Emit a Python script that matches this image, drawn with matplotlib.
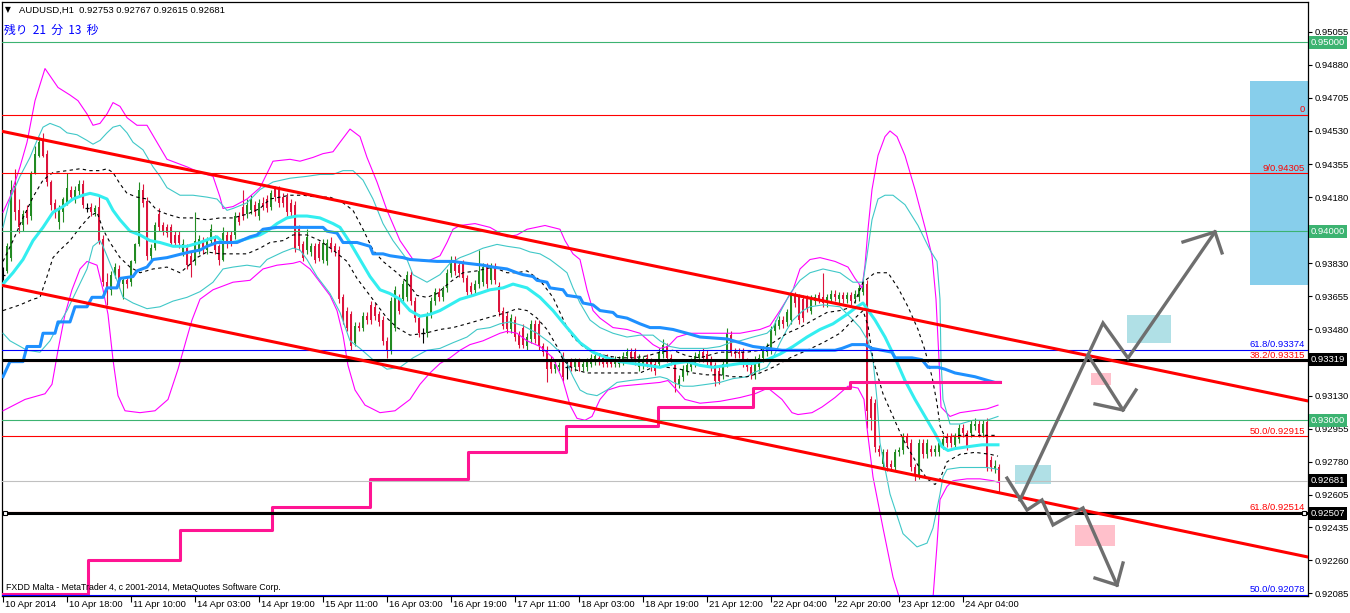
import numpy as np
import matplotlib
matplotlib.use("Agg")
import matplotlib.pyplot as plt
import matplotlib.transforms as mtransforms
from matplotlib.patches import Rectangle

plt.rcParams['font.family'] = ['Liberation Sans', 'DejaVu Sans']

# ---- AUDUSD H1 candles (bar 0 = first bar on 10 Apr 2014) ----
opens = [
    0.9377, 0.9379, 0.9386, 0.9424, 0.9411, 0.9403, 0.9411, 0.9408, 0.9431, 0.9440,
    0.9448, 0.9441, 0.9426, 0.9415, 0.9405, 0.9410, 0.9415, 0.9422, 0.9417, 0.9421,
    0.9425, 0.9412, 0.9413, 0.9410, 0.9413, 0.9396, 0.9373, 0.9369, 0.9377, 0.9380,
    0.9372, 0.9374, 0.9373, 0.9384, 0.9393, 0.9422, 0.9416, 0.9387, 0.9391, 0.9409,
    0.9403, 0.9402, 0.9402, 0.9398, 0.9398, 0.9389, 0.9391, 0.9387, 0.9384, 0.9390,
    0.9395, 0.9390, 0.9395, 0.9396, 0.9392, 0.9385, 0.9398, 0.9398, 0.9398, 0.9408,
    0.9413, 0.9409, 0.9411, 0.9414, 0.9408, 0.9415, 0.9417, 0.9413, 0.9423, 0.9422,
    0.9418, 0.9418, 0.9415, 0.9414, 0.9401, 0.9393, 0.9390, 0.9389, 0.9392, 0.9393,
    0.9385, 0.9384, 0.9394, 0.9392, 0.9390, 0.9365, 0.9358, 0.9356, 0.9341, 0.9350,
    0.9349, 0.9355, 0.9361, 0.9360, 0.9356, 0.9353, 0.9342, 0.9337, 0.9349, 0.9365,
    0.9364, 0.9365, 0.9377, 0.9363, 0.9354, 0.9346, 0.9346, 0.9356, 0.9363, 0.9368,
    0.9365, 0.9370, 0.9378, 0.9385, 0.9382, 0.9383, 0.9375, 0.9371, 0.9369, 0.9372,
    0.9373, 0.9381, 0.9374, 0.9381, 0.9371, 0.9358, 0.9355, 0.9348, 0.9353, 0.9345,
    0.9349, 0.9339, 0.9343, 0.9351, 0.9351, 0.9339, 0.9337, 0.9332, 0.9327, 0.9328,
    0.9334, 0.9328, 0.9331, 0.9328, 0.9331, 0.9328, 0.9328, 0.9330, 0.9331, 0.9333,
    0.9333, 0.9333, 0.9332, 0.9330, 0.9330, 0.9331, 0.9334, 0.9336, 0.9336, 0.9328,
    0.9329, 0.9333, 0.9331, 0.9330, 0.9330, 0.9335, 0.9339, 0.9333, 0.9330, 0.9319,
    0.9323, 0.9326, 0.9328, 0.9330, 0.9333, 0.9336, 0.9335, 0.9332, 0.9329, 0.9326,
    0.9324, 0.9330, 0.9345, 0.9336, 0.9336, 0.9336, 0.9331, 0.9328, 0.9324, 0.9328,
    0.9333, 0.9336, 0.9337, 0.9347, 0.9350, 0.9353, 0.9352, 0.9353, 0.9366, 0.9365,
    0.9364, 0.9364, 0.9358, 0.9363, 0.9366, 0.9365, 0.9362, 0.9364, 0.9367, 0.9364,
    0.9366, 0.9364, 0.9366, 0.9364, 0.9365, 0.9368, 0.9372, 0.9311, 0.9309, 0.9285,
    0.9277, 0.9283, 0.9277, 0.9275, 0.9283, 0.9284, 0.9291, 0.9288, 0.9275, 0.9271,
    0.9288, 0.9282, 0.9285, 0.9283, 0.9283, 0.9287, 0.9291, 0.9291, 0.9287, 0.9290,
    0.9296, 0.9293, 0.9293, 0.9297, 0.9298, 0.9293, 0.9299, 0.9279, 0.9274, 0.92753,
]
highs = [
    0.9381, 0.9394, 0.9427, 0.9433, 0.9417, 0.9411, 0.9414, 0.9432, 0.9445, 0.9450,
    0.9452, 0.9443, 0.9427, 0.9417, 0.9414, 0.9418, 0.9431, 0.9424, 0.9424, 0.9427,
    0.9427, 0.9415, 0.9415, 0.9414, 0.9419, 0.9398, 0.9378, 0.9379, 0.9383, 0.9382,
    0.9376, 0.9376, 0.9385, 0.9394, 0.9426, 0.9425, 0.9418, 0.9393, 0.9405, 0.9412,
    0.9405, 0.9404, 0.9404, 0.9400, 0.9400, 0.9396, 0.9393, 0.9389, 0.9410, 0.9398,
    0.9397, 0.9397, 0.9404, 0.9398, 0.9393, 0.9402, 0.9400, 0.9400, 0.9410, 0.9410,
    0.9422, 0.9417, 0.9419, 0.9416, 0.9417, 0.9418, 0.9419, 0.9422, 0.9424, 0.9424,
    0.9420, 0.9420, 0.9417, 0.9416, 0.9403, 0.9395, 0.9401, 0.9394, 0.9394, 0.9395,
    0.9396, 0.9396, 0.9397, 0.9394, 0.9392, 0.9367, 0.9360, 0.9358, 0.9352, 0.9352,
    0.9357, 0.9357, 0.9363, 0.9362, 0.9358, 0.9355, 0.9344, 0.9365, 0.9371, 0.9367,
    0.9374, 0.9379, 0.9379, 0.9365, 0.9356, 0.9349, 0.9357, 0.9365, 0.9370, 0.9370,
    0.9371, 0.9380, 0.9387, 0.9387, 0.9384, 0.9385, 0.9377, 0.9373, 0.9374, 0.9390,
    0.9383, 0.9383, 0.9383, 0.9383, 0.9373, 0.9360, 0.9357, 0.9356, 0.9355, 0.9347,
    0.9351, 0.9346, 0.9353, 0.9353, 0.9353, 0.9341, 0.9339, 0.9334, 0.9332, 0.9331,
    0.9336, 0.9332, 0.9333, 0.9333, 0.9333, 0.9332, 0.9333, 0.9335, 0.9336, 0.9335,
    0.9335, 0.9335, 0.9334, 0.9334, 0.9334, 0.9336, 0.9338, 0.9338, 0.9338, 0.9335,
    0.9334, 0.9335, 0.9333, 0.9332, 0.9338, 0.9343, 0.9341, 0.9335, 0.9332, 0.9324,
    0.9329, 0.9331, 0.9333, 0.9336, 0.9337, 0.9338, 0.9337, 0.9334, 0.9331, 0.9328,
    0.9332, 0.9349, 0.9347, 0.9338, 0.9338, 0.9338, 0.9333, 0.9330, 0.9334, 0.9335,
    0.9339, 0.9341, 0.9350, 0.9353, 0.9355, 0.9355, 0.9359, 0.9368, 0.9368, 0.9367,
    0.9366, 0.9366, 0.9366, 0.9367, 0.9368, 0.9378, 0.9367, 0.9369, 0.9369, 0.9368,
    0.9368, 0.9368, 0.9368, 0.9369, 0.9372, 0.9375, 0.9374, 0.9313, 0.9311, 0.9287,
    0.9285, 0.9285, 0.9279, 0.9285, 0.9286, 0.9293, 0.9293, 0.9290, 0.9277, 0.9290,
    0.9290, 0.9290, 0.9287, 0.9287, 0.9290, 0.9292, 0.9293, 0.9293, 0.9293, 0.9298,
    0.9298, 0.9295, 0.9300, 0.9301, 0.9300, 0.9300, 0.9301, 0.9281, 0.9279, 0.92767,
]
lows = [
    0.9374, 0.9378, 0.9384, 0.9406, 0.9399, 0.9400, 0.9404, 0.9406, 0.9430, 0.9439,
    0.9439, 0.9424, 0.9411, 0.9407, 0.9401, 0.9405, 0.9414, 0.9417, 0.9415, 0.9419,
    0.9412, 0.9410, 0.9408, 0.9408, 0.9393, 0.9371, 0.9361, 0.9366, 0.9375, 0.9370,
    0.9364, 0.9370, 0.9371, 0.9383, 0.9392, 0.9413, 0.9385, 0.9384, 0.9390, 0.9400,
    0.9398, 0.9397, 0.9392, 0.9392, 0.9391, 0.9387, 0.9380, 0.9376, 0.9382, 0.9388,
    0.9388, 0.9388, 0.9393, 0.9388, 0.9382, 0.9384, 0.9391, 0.9392, 0.9396, 0.9403,
    0.9406, 0.9407, 0.9409, 0.9408, 0.9406, 0.9411, 0.9410, 0.9411, 0.9416, 0.9413,
    0.9413, 0.9408, 0.9408, 0.9389, 0.9390, 0.9384, 0.9388, 0.9387, 0.9383, 0.9384,
    0.9383, 0.9382, 0.9389, 0.9387, 0.9362, 0.9351, 0.9347, 0.9337, 0.9339, 0.9347,
    0.9347, 0.9351, 0.9351, 0.9353, 0.9350, 0.9340, 0.9333, 0.9335, 0.9347, 0.9356,
    0.9362, 0.9363, 0.9361, 0.9352, 0.9344, 0.9341, 0.9344, 0.9354, 0.9361, 0.9363,
    0.9363, 0.9368, 0.9376, 0.9377, 0.9376, 0.9373, 0.9366, 0.9366, 0.9367, 0.9370,
    0.9371, 0.9370, 0.9372, 0.9372, 0.9355, 0.9348, 0.9346, 0.9346, 0.9342, 0.9338,
    0.9338, 0.9337, 0.9341, 0.9341, 0.9337, 0.9334, 0.9320, 0.9325, 0.9325, 0.9326,
    0.9321, 0.9322, 0.9326, 0.9326, 0.9326, 0.9326, 0.9326, 0.9328, 0.9329, 0.9329,
    0.9328, 0.9328, 0.9328, 0.9328, 0.9328, 0.9329, 0.9332, 0.9331, 0.9329, 0.9326,
    0.9327, 0.9328, 0.9326, 0.9324, 0.9328, 0.9333, 0.9331, 0.9329, 0.9315, 0.9317,
    0.9321, 0.9324, 0.9326, 0.9328, 0.9331, 0.9331, 0.9329, 0.9326, 0.9318, 0.9319,
    0.9322, 0.9328, 0.9334, 0.9333, 0.9333, 0.9328, 0.9326, 0.9322, 0.9322, 0.9326,
    0.9331, 0.9334, 0.9335, 0.9345, 0.9348, 0.9349, 0.9350, 0.9351, 0.9360, 0.9351,
    0.9352, 0.9357, 0.9356, 0.9361, 0.9362, 0.9360, 0.9360, 0.9362, 0.9363, 0.9362,
    0.9362, 0.9362, 0.9361, 0.9362, 0.9363, 0.9366, 0.9296, 0.9295, 0.9283, 0.9281,
    0.9275, 0.9273, 0.9273, 0.9273, 0.9281, 0.9282, 0.9286, 0.9273, 0.9268, 0.9269,
    0.9280, 0.9280, 0.9281, 0.9281, 0.9281, 0.9285, 0.9286, 0.9286, 0.9285, 0.9288,
    0.9291, 0.9284, 0.9291, 0.9295, 0.9291, 0.9291, 0.9273, 0.9273, 0.9272, 0.92615,
]
closes = [
    0.9377, 0.9392, 0.9422, 0.9410, 0.9402, 0.9409, 0.9407, 0.9431, 0.9441, 0.9447,
    0.9440, 0.9426, 0.9414, 0.9410, 0.9411, 0.9417, 0.9423, 0.9418, 0.9422, 0.9425,
    0.9414, 0.9412, 0.9410, 0.9412, 0.9395, 0.9373, 0.9369, 0.9377, 0.9381, 0.9372,
    0.9374, 0.9372, 0.9384, 0.9393, 0.9422, 0.9415, 0.9387, 0.9391, 0.9403, 0.9402,
    0.9400, 0.9399, 0.9394, 0.9394, 0.9394, 0.9393, 0.9382, 0.9382, 0.9395, 0.9396,
    0.9390, 0.9395, 0.9401, 0.9390, 0.9385, 0.9399, 0.9393, 0.9394, 0.9408, 0.9405,
    0.9408, 0.9414, 0.9417, 0.9410, 0.9415, 0.9413, 0.9412, 0.9420, 0.9418, 0.9415,
    0.9415, 0.9410, 0.9410, 0.9391, 0.9392, 0.9386, 0.9397, 0.9392, 0.9385, 0.9386,
    0.9394, 0.9394, 0.9391, 0.9389, 0.9364, 0.9353, 0.9349, 0.9339, 0.9350, 0.9349,
    0.9355, 0.9353, 0.9353, 0.9355, 0.9352, 0.9342, 0.9337, 0.9363, 0.9369, 0.9358,
    0.9372, 0.9377, 0.9363, 0.9354, 0.9346, 0.9346, 0.9355, 0.9363, 0.9368, 0.9365,
    0.9369, 0.9378, 0.9384, 0.9379, 0.9378, 0.9375, 0.9368, 0.9368, 0.9372, 0.9379,
    0.9381, 0.9372, 0.9381, 0.9374, 0.9357, 0.9350, 0.9348, 0.9354, 0.9344, 0.9340,
    0.9340, 0.9344, 0.9351, 0.9343, 0.9339, 0.9336, 0.9327, 0.9327, 0.9330, 0.9329,
    0.9323, 0.9328, 0.9328, 0.9331, 0.9328, 0.9330, 0.9331, 0.9333, 0.9334, 0.9331,
    0.9330, 0.9330, 0.9330, 0.9332, 0.9332, 0.9334, 0.9336, 0.9333, 0.9331, 0.9333,
    0.9332, 0.9330, 0.9328, 0.9326, 0.9336, 0.9340, 0.9333, 0.9331, 0.9320, 0.9322,
    0.9327, 0.9329, 0.9331, 0.9334, 0.9335, 0.9333, 0.9331, 0.9328, 0.9321, 0.9321,
    0.9330, 0.9346, 0.9336, 0.9335, 0.9335, 0.9330, 0.9328, 0.9324, 0.9332, 0.9333,
    0.9337, 0.9339, 0.9348, 0.9351, 0.9353, 0.9351, 0.9357, 0.9366, 0.9362, 0.9353,
    0.9354, 0.9359, 0.9364, 0.9365, 0.9364, 0.9362, 0.9365, 0.9367, 0.9365, 0.9366,
    0.9364, 0.9366, 0.9363, 0.9367, 0.9370, 0.9373, 0.9305, 0.9301, 0.9286, 0.9283,
    0.9283, 0.9275, 0.9275, 0.9283, 0.9284, 0.9291, 0.9288, 0.9275, 0.9271, 0.9288,
    0.9282, 0.9288, 0.9283, 0.9285, 0.9288, 0.9290, 0.9288, 0.9288, 0.9291, 0.9296,
    0.9293, 0.9286, 0.9298, 0.9298, 0.9293, 0.9298, 0.9275, 0.9275, 0.9276, 0.92681,
]

# ---- indicator lines (x in bars, y in price) ----
# outer Bollinger band (magenta)
mag_up_x = [0, 1.75, 4.25, 6, 8, 10.5, 13.75, 16.75, 18.75, 21,
            22.5, 24.25, 26, 27.5, 29.25, 31, 33.5, 36, 38.5, 41,
            46, 49.25, 52.5, 54.25, 55, 57.5, 61, 64.25, 67.5, 71.75,
            74.25, 77.5, 80, 82.5, 84.25, 86.75, 89.25, 91, 93.5, 96,
            99.25, 102.5, 106, 109.25, 111, 112.5, 114.25, 118, 121.75, 124.25,
            126, 128.5, 131, 135.5, 139.25, 140.5, 142.5, 144.25, 146, 147.5,
            149.25, 152.5, 156, 159.25, 162.5, 164.25, 166.25, 168.5, 171.75, 177.5,
            184.25, 189.25, 191.75, 194.25, 196, 197.5, 199.25, 201.75, 204.25, 208,
            211.25, 213, 214.75, 215.5, 216.25, 217.25, 218.75, 220.5, 221.75, 223.5,
            225.5, 228, 230.5, 232.25, 233.25, 234, 234.5, 236.75, 239.25, 242.5,
            246, 248.75]
mag_up_y = [0.9410, 0.9418, 0.9434, 0.9447, 0.9469, 0.9486, 0.9476, 0.9472, 0.9469, 0.9462,
            0.9456, 0.9457, 0.9462, 0.9468, 0.9466, 0.9460, 0.9456, 0.9456, 0.9447, 0.9438,
            0.9434, 0.9431, 0.9429, 0.9418, 0.9412, 0.9413, 0.9417, 0.9423, 0.9437, 0.9438,
            0.9437, 0.9439, 0.9441, 0.9442, 0.9447, 0.9454, 0.9450, 0.9439, 0.9426, 0.9411,
            0.9395, 0.9385, 0.9384, 0.9387, 0.9394, 0.9401, 0.9403, 0.9404, 0.9402, 0.9399,
            0.9397, 0.9398, 0.9401, 0.9403, 0.9401, 0.9395, 0.9388, 0.9385, 0.9369, 0.9358,
            0.9354, 0.9349, 0.9348, 0.9346, 0.9340, 0.9338, 0.9339, 0.9344, 0.9346, 0.9346,
            0.9346, 0.9348, 0.9350, 0.9358, 0.9364, 0.9369, 0.9380, 0.9385, 0.9386, 0.9384,
            0.9381, 0.9375, 0.9370, 0.9382, 0.9401, 0.9422, 0.9440, 0.9450, 0.9453, 0.9450,
            0.9440, 0.9422, 0.9402, 0.9387, 0.9364, 0.9332, 0.9307, 0.9302, 0.9304, 0.9305,
            0.9306, 0.9308]
mag_lo_x = [0, 5.5, 10.5, 12.25, 13.75, 15.5, 17.25, 19.25, 21, 23.5,
            25, 26.25, 27.5, 28.75, 30.5, 34.25, 38, 41.25, 43.75, 45.75,
            47.25, 49.25, 52.5, 57.5, 61.75, 65, 68.5, 72.5, 74.25, 76.75,
            79.25, 81.75, 83.5, 85, 86.25, 88, 90.5, 94.25, 98, 101.75,
            104.25, 106.75, 109.25, 111.75, 114.25, 116.75, 120, 124.25, 126, 128.5,
            131, 134.25, 137.5, 140, 141.75, 143.5, 145.5, 147.25, 149.25, 151.25,
            154.25, 159.25, 164.25, 166.25, 168, 170.5, 174.25, 179.25, 184.25, 188,
            191.25, 194.75, 197.25, 198.75, 202.25, 204.75, 208, 211.25, 213.75, 215.25,
            216, 217.5, 220, 222.5, 224.25, 226.75, 230.5, 232.5, 233.5, 234.25,
            236, 237.5, 241, 244.25, 247.5, 249]
mag_lo_y = [0.9305, 0.9311, 0.9314, 0.9319, 0.9337, 0.9356, 0.9369, 0.9380, 0.9384, 0.9382,
            0.9369, 0.9356, 0.9332, 0.9313, 0.9305, 0.9304, 0.9305, 0.9311, 0.9327, 0.9342,
            0.9353, 0.9364, 0.9369, 0.9373, 0.9374, 0.9380, 0.9382, 0.9383, 0.9384, 0.9380,
            0.9373, 0.9366, 0.9358, 0.9345, 0.9329, 0.9316, 0.9308, 0.9304, 0.9305, 0.9311,
            0.9319, 0.9325, 0.9330, 0.9333, 0.9337, 0.9340, 0.9342, 0.9346, 0.9347, 0.9346,
            0.9342, 0.9339, 0.9333, 0.9321, 0.9308, 0.9301, 0.9300, 0.9302, 0.9311, 0.9316,
            0.9318, 0.9319, 0.9320, 0.9321, 0.9317, 0.9311, 0.9309, 0.9310, 0.9312, 0.9314,
            0.9317, 0.9311, 0.9304, 0.9303, 0.9304, 0.9307, 0.9312, 0.9318, 0.9317, 0.9311,
            0.9296, 0.9270, 0.9243, 0.9217, 0.9205, 0.9192, 0.9192, 0.9206, 0.9234, 0.9258,
            0.9265, 0.9268, 0.9269, 0.9269, 0.9268, 0.9267]

# inner Bollinger band (thin cyan)
cyan_up_x = [0, 1.75, 4.25, 6.75, 8.5, 10, 11.75, 14.25, 16, 18.5,
             21, 22.5, 24.25, 26, 27.5, 29.25, 31, 32.5, 35, 37.5,
             39.25, 41, 44.25, 47.5, 51, 53.5, 56, 57.5, 61, 64.25,
             67.5, 71.75, 76, 79.25, 82.5, 85, 87.5, 90, 92.5, 95,
             97.5, 101, 102.5, 106, 109.25, 111.75, 114.25, 116.75, 120, 123.5,
             126, 129.25, 131.75, 134.25, 136.75, 139.25, 141, 142.5, 144.25, 146.75,
             149.25, 152.5, 156, 159.25, 162.5, 164.25, 166.75, 169.25, 176, 179.25,
             181.75, 184.25, 187.5, 191, 192.5, 194.25, 196.75, 199.25, 201.75, 205,
             209.25, 212.5, 215, 216, 217.25, 218.75, 220.5, 222.5, 225.5, 228.75,
             231.75, 233.5, 234.25, 234.5, 235, 236.75, 239.25, 242.5, 246, 248.75]
cyan_up_y = [0.9402, 0.9417, 0.9429, 0.9439, 0.9448, 0.9455, 0.9457, 0.9455, 0.9452, 0.9451,
             0.9448, 0.9446, 0.9448, 0.9452, 0.9455, 0.9456, 0.9452, 0.9447, 0.9443, 0.9434,
             0.9429, 0.9423, 0.9419, 0.9419, 0.9418, 0.9417, 0.9411, 0.9412, 0.9415, 0.9422,
             0.9426, 0.9428, 0.9429, 0.9430, 0.9430, 0.9432, 0.9432, 0.9427, 0.9417, 0.9404,
             0.9395, 0.9385, 0.9377, 0.9373, 0.9377, 0.9383, 0.9386, 0.9388, 0.9391, 0.9393,
             0.9392, 0.9391, 0.9389, 0.9388, 0.9385, 0.9381, 0.9378, 0.9370, 0.9362, 0.9353,
             0.9349, 0.9346, 0.9344, 0.9345, 0.9345, 0.9342, 0.9339, 0.9338, 0.9338, 0.9339,
             0.9341, 0.9342, 0.9344, 0.9346, 0.9349, 0.9357, 0.9367, 0.9374, 0.9378, 0.9380,
             0.9378, 0.9373, 0.9373, 0.9387, 0.9406, 0.9417, 0.9419, 0.9419, 0.9414, 0.9403,
             0.9390, 0.9384, 0.9364, 0.9332, 0.9311, 0.9298, 0.9298, 0.9300, 0.9300, 0.9302]
cyan_lo_x = [0, 1.75, 6, 9.25, 11.75, 13.5, 16, 18.5, 21, 22.5,
             24.25, 25, 26.75, 28.5, 30, 32.5, 36, 39.25, 42.5, 46,
             49.25, 52.5, 55, 57.5, 61, 64.25, 66, 70, 72.5, 74.25,
             76, 78.5, 81.75, 84.25, 86.75, 89.25, 92.5, 96, 99.25, 102.5,
             106, 109.25, 112.5, 116, 118.5, 121.75, 124.25, 126.75, 130, 133.5,
             136.75, 139.25, 141, 142.5, 144.25, 146, 148.5, 151, 153.5, 156.75,
             161, 164.25, 166, 167.5, 170, 172.5, 176, 179.25, 182.5, 186,
             187.5, 191, 192.5, 194.25, 196, 197.5, 200, 201.75, 205, 209.25,
             212.5, 214.25, 216.25, 217.5, 218.5, 219.25, 221.75, 225, 228.5, 231,
             232.5, 234.25, 235, 236, 239.25, 242.5, 246, 248.75]
cyan_lo_y = [0.9346, 0.9342, 0.9337, 0.9336, 0.9342, 0.9349, 0.9358, 0.9369, 0.9380, 0.9392,
             0.9395, 0.9392, 0.9383, 0.9374, 0.9365, 0.9362, 0.9359, 0.9360, 0.9363, 0.9365,
             0.9368, 0.9373, 0.9380, 0.9381, 0.9382, 0.9381, 0.9385, 0.9389, 0.9391, 0.9390,
             0.9385, 0.9376, 0.9367, 0.9357, 0.9342, 0.9338, 0.9332, 0.9327, 0.9328, 0.9333,
             0.9337, 0.9338, 0.9341, 0.9344, 0.9348, 0.9349, 0.9351, 0.9352, 0.9350, 0.9346,
             0.9341, 0.9336, 0.9330, 0.9323, 0.9316, 0.9314, 0.9313, 0.9316, 0.9320, 0.9321,
             0.9322, 0.9323, 0.9322, 0.9320, 0.9318, 0.9318, 0.9319, 0.9320, 0.9322, 0.9323,
             0.9325, 0.9328, 0.9333, 0.9341, 0.9348, 0.9353, 0.9358, 0.9360, 0.9361, 0.9360,
             0.9353, 0.9349, 0.9342, 0.9332, 0.9311, 0.9288, 0.9261, 0.9240, 0.9233, 0.9235,
             0.9243, 0.9261, 0.9270, 0.9274, 0.9275, 0.9275, 0.9275, 0.9274]

# dashed black envelope
dash_up_x = [0, 2.5, 5, 7.5, 10, 12.5, 16, 19.25, 21.75, 24.25,
             26, 27.5, 29.25, 31, 33.5, 36, 38.5, 41, 44.25, 47.5,
             51, 54.25, 57.5, 61, 64.25, 66.75, 69.25, 71.75, 75, 78.5,
             81.75, 85, 87.5, 90, 92.5, 95, 98.5, 101, 103.5, 106,
             108.5, 111.75, 115, 118.5, 122.5, 126, 128.5, 131, 134.25, 137.5,
             139.25, 141, 142.5, 145, 147.5, 151, 154.25, 157.5, 161, 164.25,
             167.5, 171, 174.25, 179.25, 186, 189.25, 192.5, 196, 199.25, 202.5,
             206, 209.25, 212.5, 215, 218, 221.25, 223.75, 226.25, 228.75, 230.5,
             232.25, 233.5, 234.25, 235.5, 239.25, 244.25, 248.75]
dash_up_y = [0.9384, 0.9395, 0.9407, 0.9418, 0.9427, 0.9431, 0.9432, 0.9433, 0.9432, 0.9432,
             0.9433, 0.9431, 0.9425, 0.9420, 0.9418, 0.9417, 0.9411, 0.9409, 0.9407, 0.9407,
             0.9406, 0.9407, 0.9407, 0.9409, 0.9412, 0.9417, 0.9418, 0.9419, 0.9419, 0.9418,
             0.9418, 0.9415, 0.9411, 0.9401, 0.9390, 0.9384, 0.9378, 0.9373, 0.9366, 0.9365,
             0.9367, 0.9373, 0.9378, 0.9379, 0.9381, 0.9378, 0.9378, 0.9379, 0.9374, 0.9365,
             0.9357, 0.9349, 0.9344, 0.9339, 0.9336, 0.9334, 0.9333, 0.9333, 0.9334, 0.9336,
             0.9337, 0.9334, 0.9333, 0.9336, 0.9336, 0.9337, 0.9341, 0.9346, 0.9349, 0.9353,
             0.9357, 0.9358, 0.9360, 0.9373, 0.9378, 0.9378, 0.9370, 0.9360, 0.9348, 0.9337,
             0.9323, 0.9309, 0.9297, 0.9291, 0.9292, 0.9292, 0.9292]
dash_lo_x = [0, 4.25, 7.5, 9.25, 11, 12.5, 14.25, 16.75, 19.25, 21.75,
             23.5, 25, 26.75, 29.25, 31.75, 34.25, 37.5, 41, 44.25, 46,
             48.5, 51, 54.25, 57.5, 61, 64.25, 66.75, 70, 72.5, 76,
             79.25, 82.5, 86, 88.5, 91, 93.5, 96, 98.5, 101.75, 105.5,
             109.25, 112.5, 116, 119.25, 122.5, 126, 128.5, 131, 133.5, 136,
             138.5, 140, 142.5, 146, 149.25, 152.5, 156, 159.25, 162.5, 166,
             169.25, 172.5, 176, 179.25, 182.5, 186, 189.25, 192.5, 196.75, 201,
             205, 209.25, 212.5, 215, 216.25, 217.5, 220, 222.5, 225, 228.5,
             231, 233, 234.25, 236, 239.25, 243, 246.75, 248.75]
dash_lo_y = [0.9358, 0.9361, 0.9364, 0.9365, 0.9376, 0.9386, 0.9390, 0.9395, 0.9402, 0.9408,
             0.9410, 0.9401, 0.9394, 0.9386, 0.9381, 0.9378, 0.9380, 0.9381, 0.9378, 0.9381,
             0.9386, 0.9389, 0.9388, 0.9388, 0.9388, 0.9391, 0.9394, 0.9395, 0.9398, 0.9398,
             0.9395, 0.9390, 0.9384, 0.9375, 0.9368, 0.9361, 0.9354, 0.9349, 0.9345, 0.9346,
             0.9348, 0.9349, 0.9351, 0.9353, 0.9355, 0.9357, 0.9359, 0.9358, 0.9354, 0.9348,
             0.9339, 0.9332, 0.9327, 0.9325, 0.9325, 0.9325, 0.9325, 0.9325, 0.9328, 0.9328,
             0.9327, 0.9325, 0.9324, 0.9324, 0.9323, 0.9323, 0.9325, 0.9328, 0.9333, 0.9337,
             0.9341, 0.9346, 0.9353, 0.9358, 0.9350, 0.9332, 0.9314, 0.9302, 0.9290, 0.9277,
             0.9269, 0.9266, 0.9269, 0.9278, 0.9282, 0.9283, 0.9282, 0.9281]

# thick aqua moving average
ma_x = [0, 2.5, 5, 7.5, 10, 12.5, 15, 17.5, 20, 21.75,
        23.75, 26, 27.5, 29.25, 31.75, 34.25, 36.75, 39.25, 42.5, 46,
        49.25, 51.75, 53.5, 55, 57.5, 61, 64.25, 66, 68.5, 71,
        73.5, 76, 79.25, 82.5, 84.25, 86.75, 89.25, 91.75, 94.25, 96.75,
        99.25, 101.75, 104.25, 106.75, 109.25, 111.75, 114.25, 117.5, 121.75, 125,
        127.5, 131, 134.25, 137.5, 141, 144.25, 147.5, 151, 154.25, 157.5,
        161, 164.25, 167.5, 171, 174.25, 177.5, 181, 184.25, 187.5, 191,
        194.25, 197.5, 201, 204.25, 207.5, 211, 213.5, 215, 218, 220.5,
        223, 225.5, 228, 230.5, 233, 234.75, 236.25, 238, 241.25, 244.75, 248.75]
ma_y = [0.9372, 0.9378, 0.9385, 0.9395, 0.9402, 0.9410, 0.9413, 0.9417, 0.9419, 0.9420,
        0.9419, 0.9417, 0.9411, 0.9406, 0.9400, 0.9398, 0.9395, 0.9394, 0.9392, 0.9392,
        0.9394, 0.9396, 0.9397, 0.9394, 0.9394, 0.9396, 0.9398, 0.9400, 0.9404, 0.9407,
        0.9408, 0.9408, 0.9407, 0.9404, 0.9402, 0.9394, 0.9385, 0.9376, 0.9369, 0.9367,
        0.9364, 0.9358, 0.9355, 0.9356, 0.9358, 0.9361, 0.9364, 0.9366, 0.9369, 0.9370,
        0.9372, 0.9370, 0.9365, 0.9358, 0.9349, 0.9341, 0.9336, 0.9333, 0.9331, 0.9330,
        0.9329, 0.9328, 0.9330, 0.9331, 0.9329, 0.9328, 0.9329, 0.9330, 0.9330, 0.9332,
        0.9335, 0.9339, 0.9344, 0.9348, 0.9351, 0.9356, 0.9360, 0.9362, 0.9353, 0.9344,
        0.9333, 0.9321, 0.9311, 0.9302, 0.9293, 0.9286, 0.9284, 0.9285, 0.9286, 0.9287, 0.9287]

# thick blue step line
blue_x = [0, 1.75, 5, 6, 9.25, 10, 13, 13.75, 16.75, 18,
          21, 22.25, 25, 26, 28.5, 29.25, 32.5, 33.5, 36, 37.5,
          41, 44.75, 46.75, 49.25, 51, 53.5, 56.75, 58.5, 61.75, 63.5,
          65, 68.5, 73.5, 80, 81, 83.5, 85, 88.5, 91.75, 92.5,
          95, 96.75, 100, 101.75, 108.5, 112.5, 116, 120, 122.5, 126,
          128.5, 130, 132.5, 133.5, 136, 136.75, 140, 141, 144.25, 145,
          147.5, 149.25, 152.5, 153.5, 156, 159.25, 161.75, 164.25, 167.5, 171,
          174.25, 181, 184.25, 187.5, 194.75, 208, 209.75, 212.25, 215.5, 217.25,
          219.75, 222.25, 223, 227.25, 229.75, 231.25, 233.75, 235.5, 238, 243,
          246.25, 248, 249.25]
blue_y = [0.9323, 0.9331, 0.9331, 0.9339, 0.9339, 0.9346, 0.9346, 0.9352, 0.9352, 0.9360,
          0.9360, 0.9365, 0.9365, 0.9370, 0.9370, 0.9375, 0.9376, 0.9379, 0.9381, 0.9385,
          0.9386, 0.9388, 0.9389, 0.9390, 0.9392, 0.9394, 0.9394, 0.9394, 0.9397, 0.9398,
          0.9401, 0.9402, 0.9402, 0.9402, 0.9400, 0.9399, 0.9394, 0.9394, 0.9392, 0.9388,
          0.9388, 0.9387, 0.9386, 0.9385, 0.9384, 0.9384, 0.9383, 0.9382, 0.9381, 0.9380,
          0.9378, 0.9377, 0.9376, 0.9374, 0.9373, 0.9370, 0.9369, 0.9366, 0.9365, 0.9362,
          0.9361, 0.9358, 0.9357, 0.9355, 0.9354, 0.9351, 0.9349, 0.9349, 0.9348, 0.9346,
          0.9344, 0.9343, 0.9341, 0.9339, 0.9337, 0.9337, 0.9338, 0.9340, 0.9340, 0.9338,
          0.9337, 0.9336, 0.9333, 0.9333, 0.9332, 0.9328, 0.9328, 0.9327, 0.9325, 0.9323,
          0.9321, 0.9320, 0.9320]

# pink daily step line
pink_x = [0, 21.25, 44.25, 67.25, 91.75, 116.25, 140.75, 163.75, 187.5, 211.75, 249.25]
pink_y = [0.9208, 0.9226, 0.9242, 0.9254, 0.9269, 0.9283, 0.9297, 0.9307, 0.9317, 0.9320, 0.9320]

# drawn objects
channel_upper = [(0, 0.94527), (250, 0.93435)]
channel_lower = [(0, 0.93712), (250, 0.92612)]
green_levels = [0.95000, 0.94000, 0.93000]
red_levels = [0.94614, 0.94305, 0.93315, 0.92915, 0.92514]
blue_levels = [0.93374, 0.92078]
black_levels = [0.93319, 0.92507]
bid_price = 0.92681
fib_labels = [("0", 0.94614, "red"), ("9/0.94305", 0.94305, "red"),
              ("61.8/0.93374", 0.93374, "blue"), ("38.2/0.93315", 0.93315, "red"),
              ("50.0/0.92915", 0.92915, "red"), ("61.8/0.92514", 0.92514, "red"),
              ("50.0/0.92078", 0.92078, "blue")]
# rectangles: (x0, x1, y_low, y_high, colour)
boxes = [(311.75, 326.2, 0.93715, 0.94795, "#87CEEB"),
         (281.0, 292.0, 0.93409, 0.93557, "#B0E0E6"),
         (253.0, 262.0, 0.92663, 0.92763, "#B0E0E6"),
         (272.0, 277.0, 0.93186, 0.93250, "#FFC0CB"),
         (268.0, 278.0, 0.92334, 0.92446, "#FFC0CB")]
# hand drawn grey arrows
arrow_paths = [
    ([251, 256, 259.75, 262.5, 270, 278.5], [0.92694, 0.92525, 0.92578, 0.92446, 0.92536, 0.92128]),
    ([273, 278.5, 280], [0.92165, 0.92128, 0.92245]),
    ([254.25, 275, 281.25, 303], [0.92578, 0.93514, 0.93329, 0.93996]),
    ([295, 303, 304.75], [0.93943, 0.93996, 0.93885]),
    ([271.25, 280], [0.93345, 0.93054]),
    ([273, 280, 283.25], [0.93086, 0.93054, 0.93160]),
]

ytick_vals = [0.95055, 0.94880, 0.94705, 0.94530, 0.94355, 0.94180, 0.93830, 0.93655,
              0.93480, 0.93130, 0.92955, 0.92780, 0.92605, 0.92435, 0.92260, 0.92085]
time_labels = ["10 Apr 2014", "10 Apr 18:00", "11 Apr 10:00", "14 Apr 03:00", "14 Apr 19:00",
               "15 Apr 11:00", "16 Apr 03:00", "16 Apr 19:00", "17 Apr 11:00", "18 Apr 03:00",
               "18 Apr 19:00", "21 Apr 12:00", "22 Apr 04:00", "22 Apr 20:00", "23 Apr 12:00",
               "24 Apr 04:00"]
axis_boxes = [(0.95000, "#3CB371"), (0.94000, "#3CB371"), (0.93319, "black"),
              (0.93000, "#3CB371"), (0.92681, "black"), (0.92507, "black")]

# ---- figure ----
fig = plt.figure(figsize=(13.5, 6.13), dpi=100)
ax = fig.add_axes([2 / 1350, 1 - 595.5 / 613, 1305.5 / 1350, 593.5 / 613])
ax.set_xlim(-0.25, 326.125)
ax.set_ylim(0.92073, 0.95212)

for x0, x1, y0, y1, col in boxes:
    ax.add_patch(Rectangle((x0, y0), x1 - x0, y1 - y0, fc=col, ec="none", zorder=1))

# candles
for i in range(len(closes)):
    o, h, l, c = opens[i], highs[i], lows[i], closes[i]
    if c > o:
        col = "#228B22"
    elif c < o:
        col = "#DC143C"
    else:
        col = "black"
    ax.vlines(i, l, h, color=col, lw=0.8, zorder=2)
    if c != o:
        ax.bar(i, c - o, bottom=o, width=0.72, color=col, lw=0, zorder=2)
    else:
        ax.hlines(o, i - 0.4, i + 0.4, color=col, lw=0.9, zorder=2)

# indicators
ax.plot(mag_up_x, mag_up_y, color="#FF00FF", lw=0.8, zorder=3)
ax.plot(mag_lo_x, mag_lo_y, color="#FF00FF", lw=0.8, zorder=3)
ax.plot(cyan_up_x, cyan_up_y, color="#40C8C8", lw=0.8, zorder=3)
ax.plot(cyan_lo_x, cyan_lo_y, color="#40C8C8", lw=0.8, zorder=3)
ax.plot(dash_up_x, dash_up_y, color="black", lw=0.8, ls=(0, (3, 3)), zorder=3)
ax.plot(dash_lo_x, dash_lo_y, color="black", lw=0.8, ls=(0, (3, 3)), zorder=3)
ax.plot(ma_x, ma_y, color="#33EEF0", lw=2.2, zorder=3)
ax.plot(blue_x, blue_y, color="#1E90FF", lw=2.2, zorder=3)
ax.step(pink_x, pink_y, where="post", color="#FF1493", lw=2.2, zorder=3)

# horizontal levels
for p in green_levels:
    ax.axhline(p, color="#3CB371", lw=0.8, zorder=4)
for p in red_levels:
    ax.axhline(p, color="red", lw=0.8, zorder=4)
for p in blue_levels:
    ax.axhline(p, color="blue", lw=0.8, zorder=4)
ax.axhline(bid_price, color="#C0C0C0", lw=0.8, zorder=4)
for p in black_levels:
    ax.axhline(p, color="black", lw=2.2, zorder=4)
ax.plot([0.5, 325.25], [black_levels[1]] * 2, ls="none", marker="s", ms=3.5,
        mfc="white", mec="black", mew=0.8, zorder=6)

# channel
for a, b in (channel_upper, channel_lower):
    ax.axline(a, b, color="red", lw=2.2, zorder=5)

for xs, ys in arrow_paths:
    ax.plot(xs, ys, color="#6E6E6E", lw=2.4, zorder=6, solid_joinstyle="miter")

# axes styling
for s in ax.spines.values():
    s.set_linewidth(0.9)
ax.yaxis.tick_right()
ax.set_yticks(ytick_vals)
ax.set_yticklabels([f"{v:.5f}" for v in ytick_vals])
ax.tick_params(axis="y", direction="out", length=3, width=0.8, pad=2, labelsize=6.8)
ax.set_xticks(np.arange(0, 241, 16))
ax.set_xticklabels([])
ax.tick_params(axis="x", direction="out", length=4, width=0.8)

blend_x = mtransforms.blended_transform_factory(ax.transData, ax.transAxes)
for b, lab in zip(np.arange(0, 241, 16), time_labels):
    ax.text(b + 0.5, -0.008, lab, transform=blend_x, ha="left", va="top",
            fontsize=6.8, clip_on=False)

blend_y = mtransforms.blended_transform_factory(ax.transAxes, ax.transData)
for lab, p, col in fib_labels:
    ax.text(0.998, p + 0.00003, lab, transform=blend_y, ha="right", va="bottom",
            fontsize=6.8, color=col, zorder=7)
for p, col in axis_boxes:
    ax.text(1.0025, p, f"{p:.5f}", transform=blend_y, ha="left", va="center",
            fontsize=6.8, color="white", clip_on=False, zorder=8,
            bbox=dict(boxstyle="square,pad=0.22", fc=col, ec="none"))

# header and footer texts
fig.text(5 / 1350, 1 - 10 / 613, "\u25BC", fontsize=5.5, va="center", family=["DejaVu Sans"])
fig.text(19 / 1350, 1 - 10 / 613, "AUDUSD,H1  0.92753 0.92767 0.92615 0.92681",
         fontsize=6.8, va="center")
fig.text(4 / 1350, 1 - 30 / 613, "残り  21  分  13  秒", fontsize=8.5, color="blue", va="center",
         family=["Noto Sans CJK JP", "DejaVu Sans"])
fig.text(6 / 1350, 1 - 587 / 613,
         "FXDD Malta - MetaTrader 4, c 2001-2014, MetaQuotes Software Corp.",
         fontsize=6.3, va="center")

fig.savefig("out.png", dpi=100)
